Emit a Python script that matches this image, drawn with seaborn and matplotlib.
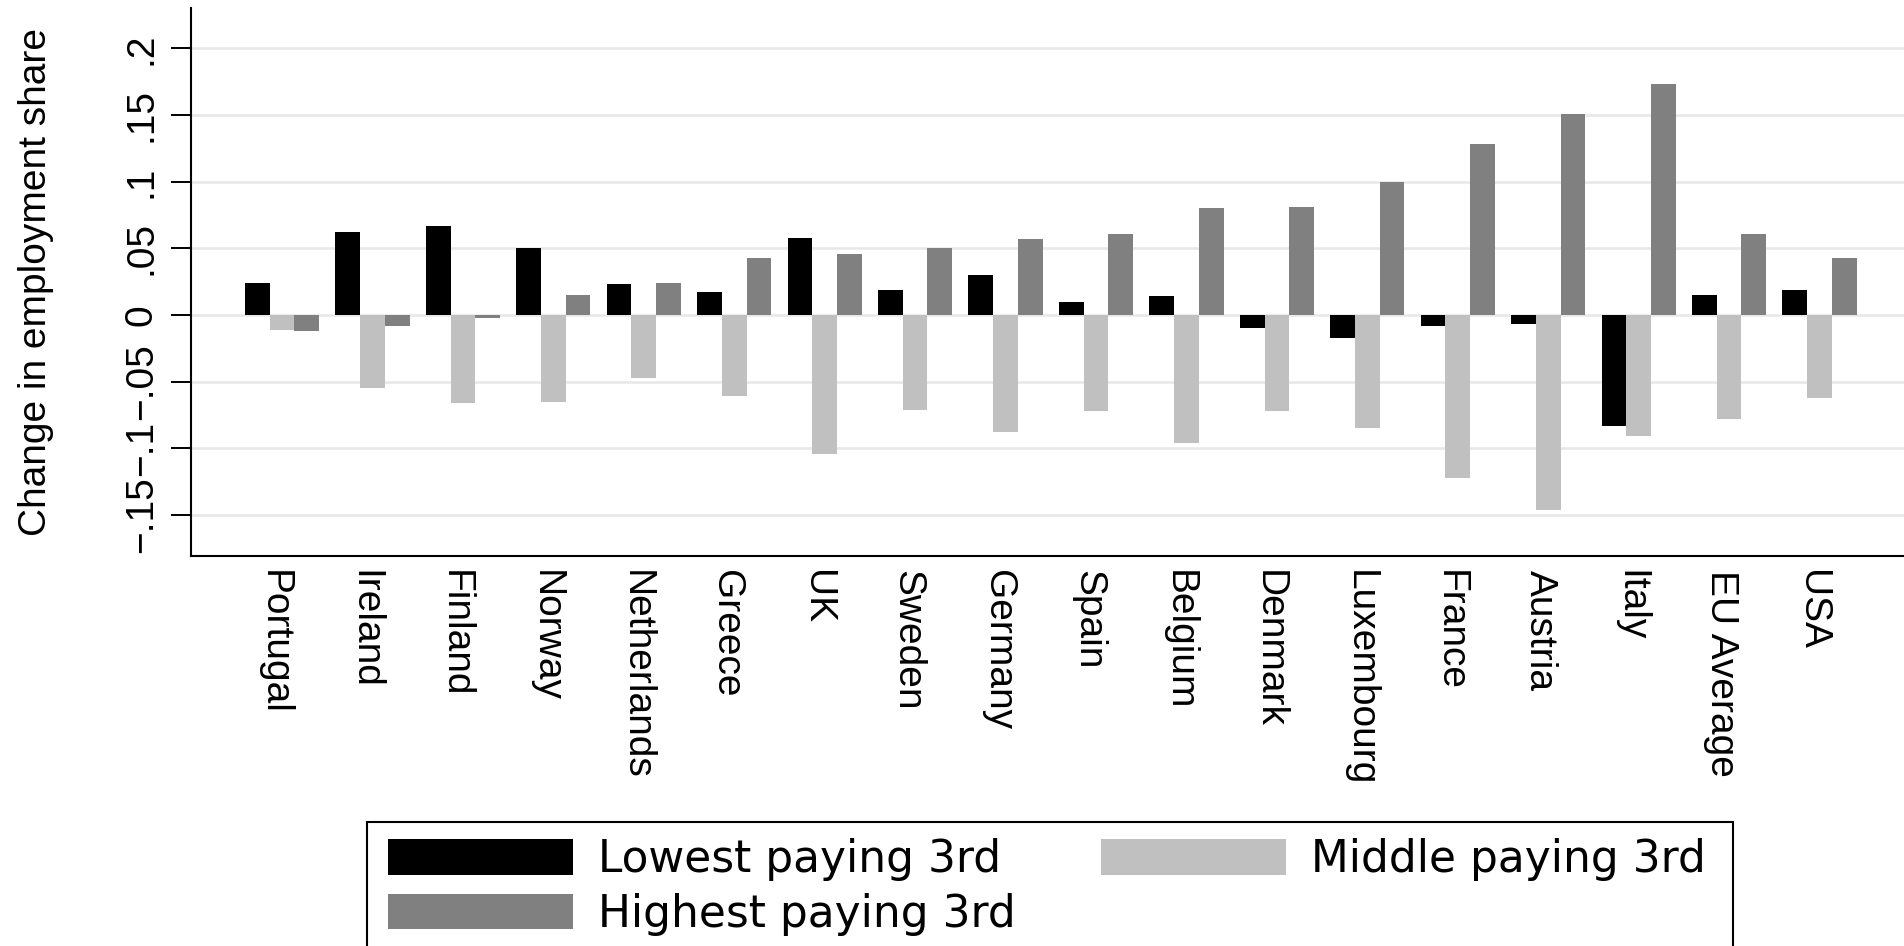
import matplotlib
matplotlib.use("Agg")
import matplotlib.pyplot as plt
import matplotlib.transforms as mtransforms
from matplotlib.patches import Patch, Rectangle
import numpy as np
import pandas as pd
import seaborn as sns

# Change in employment share by wage tercile
countries = ["Portugal", "Ireland", "Finland", "Norway", "Netherlands", "Greece",
             "UK", "Sweden", "Germany", "Spain", "Belgium", "Denmark",
             "Luxembourg", "France", "Austria", "Italy", "EU Average", "USA"]
lowest = [0.024, 0.062, 0.067, 0.050, 0.023, 0.017, 0.058, 0.019, 0.030,
          0.010, 0.014, -0.010, -0.017, -0.008, -0.007, -0.083, 0.015, 0.019]
middle = [-0.011, -0.055, -0.066, -0.065, -0.047, -0.061, -0.104, -0.071, -0.088,
          -0.072, -0.096, -0.072, -0.085, -0.122, -0.146, -0.091, -0.078, -0.062]
highest = [-0.012, -0.008, -0.002, 0.015, 0.024, 0.043, 0.046, 0.050, 0.057,
           0.061, 0.080, 0.081, 0.100, 0.128, 0.151, 0.173, 0.061, 0.043]
groups = ["Lowest paying 3rd", "Middle paying 3rd", "Highest paying 3rd"]
colors = ["#000000", "#c0c0c0", "#808080"]
yticks = [-0.15, -0.10, -0.05, 0.0, 0.05, 0.10, 0.15, 0.20]
ytick_labels = ["\u2212.15", "\u2212.1", "\u2212.05", "0", ".05", ".1", ".15", ".2"]

df = pd.DataFrame({
    "country": countries * 3,
    "group": [groups[0]] * len(countries) + [groups[1]] * len(countries) + [groups[2]] * len(countries),
    "value": lowest + middle + highest,
})

sns.set_style("white")
plt.rcParams["font.family"] = ["Liberation Sans", "DejaVu Sans"]
plt.rcParams.update({"text.color": "black", "axes.labelcolor": "black",
                     "xtick.color": "black", "ytick.color": "black"})

W, H = 1904, 946
AX_L, AX_B, AX_T = 190.7, 555.7, 8.0
fig = plt.figure(figsize=(W / 100, H / 100), dpi=100)
ax = fig.add_axes([AX_L / W, 1 - AX_B / H, (W - AX_L) / W, (AX_B - AX_T) / H])

sns.barplot(data=df, x="country", y="value", hue="group", order=countries,
            hue_order=groups, palette=colors, saturation=1, width=0.82,
            errorbar=None, legend=False, linewidth=0, ax=ax, zorder=3)

ax.set_xlim(-1.0095, 17.934)
ax.set_ylim(-0.18053, 0.23025)
ax.set_yticks(yticks)
ax.set_yticklabels(ytick_labels)
ax.yaxis.grid(True, color="#e8e8e8", linewidth=1.9, zorder=0)
ax.xaxis.grid(False)
ax.set_axisbelow(True)

for side in ["top", "right"]:
    ax.spines[side].set_visible(False)
for side in ["left", "bottom"]:
    ax.spines[side].set_color("black")
    ax.spines[side].set_linewidth(1.5)

LABEL_SIZE = 28
ax.tick_params(axis="y", length=14.4, width=1.4, pad=7.8, labelsize=LABEL_SIZE,
               labelrotation=90, colors="black", labelcolor="black", left=True)
for lbl in ax.get_yticklabels():
    lbl.set_va("center")
    lbl.set_ha("right")

ax.tick_params(axis="x", length=0, pad=10.5, labelsize=LABEL_SIZE,
               labelrotation=-90, labelcolor="black")
shift = mtransforms.ScaledTranslation(-8 / 100, 0, fig.dpi_scale_trans)
for lbl in ax.get_xticklabels():
    lbl.set_ha("center")
    lbl.set_va("top")
    lbl.set_transform(lbl.get_transform() + shift)

ax.set_xlabel("")
ax.set_ylabel("Change in employment share", fontsize=LABEL_SIZE, color="black")
ax.yaxis.set_label_coords((54 - AX_L) / (W - AX_L), 0.5)

# Legend frame, running off the lower edge of the figure
fig.patches.append(Rectangle((367.3 / W, -0.1), (1732.7 - 367.3) / W,
                             (H - 821.7) / H + 0.1, transform=fig.transFigure,
                             fill=False, edgecolor="black", linewidth=1.5,
                             clip_on=False))

handles = [Patch(facecolor=colors[0], edgecolor="none", label=groups[0]),
           Patch(facecolor=colors[2], edgecolor="none", label=groups[2]),
           Patch(facecolor=colors[1], edgecolor="none", label=groups[1])]
leg = fig.legend(handles=handles, loc="upper left",
                 bbox_to_anchor=(388.3 / W, 1 - 838.3 / H), bbox_transform=fig.transFigure,
                 ncol=2, frameon=False, borderpad=0, borderaxespad=0,
                 handlelength=4.2, handleheight=0.86, handletextpad=0.58,
                 columnspacing=1.95, labelspacing=0.26,
                 prop={"family": "DejaVu Sans", "size": 31.6})
for t in leg.get_texts():
    t.set_color("black")

fig.savefig("out.png", dpi=100)
